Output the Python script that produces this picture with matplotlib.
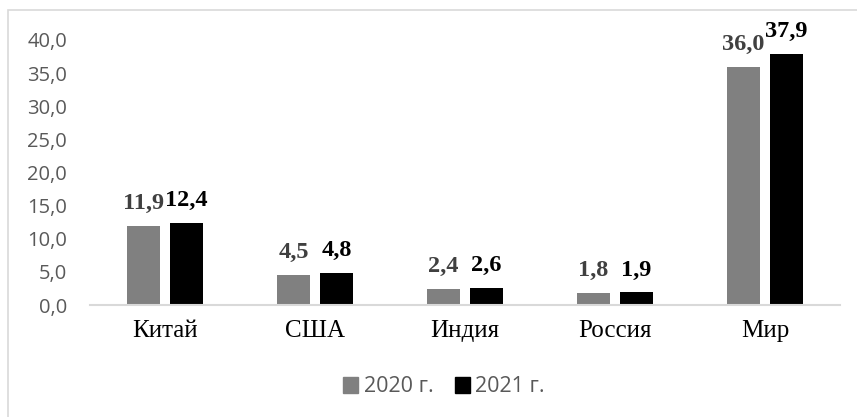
import matplotlib
matplotlib.use("Agg")
import matplotlib.pyplot as plt
from matplotlib.patches import Rectangle, Patch
import numpy as np

categories = ["Китай", "США", "Индия", "Россия", "Мир"]
values_2020 = [11.9, 4.5, 2.4, 1.8, 36.0]
values_2021 = [12.4, 4.8, 2.6, 1.9, 37.9]
series_names = ["2020 г.", "2021 г."]
yticks = [0, 5, 10, 15, 20, 25, 30, 35, 40]

W, H = 857, 417
fig = plt.figure(figsize=(W / 100, H / 100), dpi=100)
fig.patch.set_facecolor("white")
fig.patches.append(Rectangle((8 / W, -0.05), 1.1, 1 - 10 / H + 0.05, transform=fig.transFigure,
                             fill=False, edgecolor="#d9d9d9", linewidth=1.2))

ax = fig.add_axes([90 / W, (H - 305) / H, 750 / W, 265 / H])
x = np.arange(len(categories))
bw = 0.22
off = 0.143
c20, c21 = "#808080", "#000000"
b1 = ax.bar(x - off, values_2020, bw, color=c20)
b2 = ax.bar(x + off, values_2021, bw, color=c21)

fmt = lambda v: f"{v:.1f}".replace(".", ",")
for bars, vals, col in ((b1, values_2020, "#404040"), (b2, values_2021, "#000000")):
    for r, v in zip(bars, vals):
        ax.annotate(fmt(v), (r.get_x() + r.get_width() / 2, v), xytext=(0, 8.5),
                    textcoords="offset points", ha="center", va="bottom",
                    family="Liberation Serif", fontweight="bold", fontsize=17.5, color=col)

ax.set_xlim(-0.5, len(categories) - 0.5)
ax.set_ylim(0, 40)
ax.set_yticks(yticks)
ax.set_yticklabels([fmt(t) for t in yticks], family="Open Sans", fontsize=14.5, color="#595959")
ax.set_xticks(x)
ax.set_xticklabels(categories, family="Liberation Serif", fontsize=18, color="black")
ax.tick_params(axis="both", length=0)
ax.tick_params(axis="y", pad=16.5)
ax.tick_params(axis="x", pad=11)
for s in ["top", "right", "left"]:
    ax.spines[s].set_visible(False)
ax.spines["bottom"].set_color("#d9d9d9")
ax.spines["bottom"].set_linewidth(1.5)

handles = [Patch(color=c20), Patch(color=c21)]
leg = fig.legend(handles, series_names, loc="center", bbox_to_anchor=(444 / W, 1 - 387 / H),
                 ncol=2, frameon=False, handlelength=0.7, handleheight=0.7, handletextpad=0.25,
                 columnspacing=1.0, prop={"family": "Open Sans", "size": 15.5})
for t in leg.get_texts():
    t.set_color("#595959")

fig.savefig("out.png", dpi=100, facecolor="white")
